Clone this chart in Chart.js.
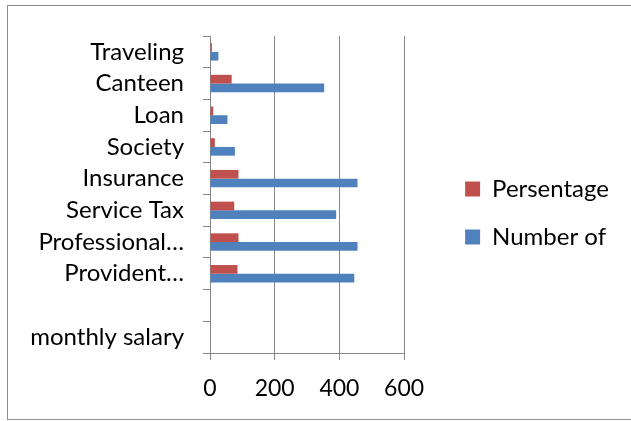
<!DOCTYPE html>
<html>
<head>
<meta charset="utf-8">
<script src="https://cdn.jsdelivr.net/npm/chart.js@4.4.1/dist/chart.umd.min.js"></script>
<style>
  html, body { margin:0; padding:0; background:#fff; overflow:hidden; }
  #wrap { position:relative; width:631px; height:421px; }
  #frame { position:absolute; left:7px; top:5px; width:640px; height:413px; border:1px solid #8c8c8c; pointer-events:none; }
</style>
</head>
<body>
<div id="wrap">
  <canvas id="chart" width="631" height="421"></canvas>
  <div id="frame"></div>
</div>
<script>
// deductions chart, categories listed top to bottom
const categories = ["Traveling", "Canteen", "Loan", "Society", "Insurance", "Service Tax", "Professional…", "Provident…", "", "monthly salary"];
const persentage = [6, 67, 10, 15, 88, 75, 88, 85, 0, 0];
const numberOf = [26, 353, 54, 77, 456, 390, 456, 446, 0, 0];
const xTicks = [0, 200, 400, 600];

const RED = "#C0504D";
const BLUE = "#4F81BD";
const GRID = "#868686";
const FONT = { family: "Lato", size: 24 };
const TICK_FONT = { family: "Lato", size: 23 };

Chart.defaults.responsive = false;
Chart.defaults.animation = false;
Chart.defaults.color = "#000";

new Chart(document.getElementById("chart"), {
  type: "bar",
  data: {
    labels: categories,
    datasets: [
      { label: "Persentage", data: persentage, backgroundColor: RED },
      { label: "Number of", data: numberOf, backgroundColor: BLUE }
    ]
  },
  options: {
    indexAxis: "y",
    responsive: false,
    animation: false,
    categoryPercentage: 0.55,
    barPercentage: 1,
    layout: { padding: { top: 5, bottom: 0, left: 0, right: 12 } },
    plugins: {
      tooltip: { enabled: false },
      legend: {
        position: "right",
        maxWidth: 200,
        labels: { font: FONT, boxWidth: 15, boxHeight: 15, padding: 24, color: "#000" }
      }
    },
    scales: {
      x: {
        min: 0, max: 600,
        afterBuildTicks: (s) => { s.ticks = xTicks.map(v => ({ value: v })); },
        afterFit: (s) => { s.height = 68; },
        grid: { color: GRID, lineWidth: 1, tickLength: 7 },
        border: { color: GRID, width: 1 },
        ticks: { font: TICK_FONT, padding: 15, color: "#000" }
      },
      // empty strip above the plot
      xTop: {
        type: "linear",
        position: "top",
        display: true,
        grid: { display: false },
        border: { display: false },
        ticks: { display: false },
        afterFit: (s) => { s.height = 31; }
      },
      y: {
        afterFit: (s) => { s.width = 210; },
        grid: { drawOnChartArea: false, color: GRID, tickLength: 7, offset: true },
        border: { color: GRID, width: 1 },
        ticks: { font: FONT, padding: 19, color: "#000", autoSkip: false }
      },
      // spacer between plot and legend
      ySpace: {
        type: "category",
        position: "right",
        display: true,
        grid: { display: false },
        border: { display: false },
        ticks: { display: false },
        afterFit: (s) => { s.width = 37; }
      }
    }
  }
});
</script>
</body>
</html>
